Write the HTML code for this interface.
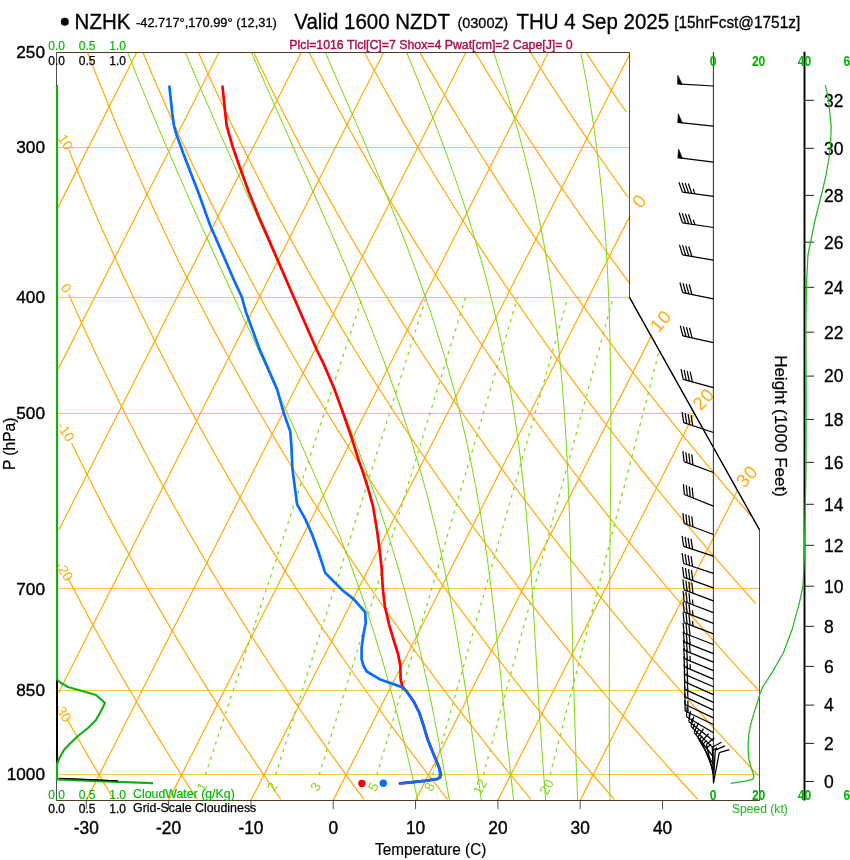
<!DOCTYPE html>
<html lang="en"><head><meta charset="utf-8"><title>NZHK Skew-T</title>
<style>html,body{margin:0;padding:0;background:#fff}body{width:850px;height:860px;overflow:hidden}svg{display:block}</style></head>
<body>
<svg width="850" height="860" viewBox="0 0 850 860" font-family="'Liberation Sans', Arial, Helvetica, sans-serif">
<rect width="850" height="860" fill="#fff"/>
<defs><clipPath id="cf"><path d="M56.5 52.5 L629.5 52.5 L629.5 297.44 L759.5 529.83 L759.5 800.5 L56.5 800.5 Z"/></clipPath><clipPath id="ct"><rect x="0" y="52.5" width="850" height="860"/></clipPath></defs>
<g clip-path="url(#ct)">
<path d="M56.5 774.5 L759.29 774.5" fill="none" stroke="#FFAC10" stroke-width="0.9" stroke-opacity="0.8"/>
<path d="M56.5 690.5 L759.29 690.5" fill="none" stroke="#FFAC10" stroke-width="0.9" stroke-opacity="0.8"/>
<path d="M56.5 588.5 L759.29 588.5" fill="none" stroke="#FFAC10" stroke-width="0.9" stroke-opacity="0.8"/>
<path d="M56.5 413.5 L694.2 413.5" fill="none" stroke="#FFAC10" stroke-width="0.9" stroke-opacity="0.8"/>
<path d="M56.5 297.5 L629.71 297.5" fill="none" stroke="#FFAC10" stroke-width="0.9" stroke-opacity="0.8"/>
<path d="M56.5 147.5 L629.71 147.5" fill="none" stroke="#FFAC10" stroke-width="0.9" stroke-opacity="0.8"/>
<path d="M57.64 208.13 L136.65 52.5" fill="none" stroke="#FFAC10" stroke-width="1.25" />
<path d="M58.22 369.15 L218.97 52.5" fill="none" stroke="#FFAC10" stroke-width="1.25" />
<path d="M58.87 530.03 L301.29 52.5" fill="none" stroke="#FFAC10" stroke-width="1.25" />
<path d="M58.29 693.33 L383.62 52.5" fill="none" stroke="#FFAC10" stroke-width="1.25" />
<path d="M86.26 800.4 L465.94 52.5" fill="none" stroke="#FFAC10" stroke-width="1.25" />
<path d="M168.59 800.4 L548.26 52.5" fill="none" stroke="#FFAC10" stroke-width="1.25" />
<path d="M250.91 800.4 L629.53 54.58" fill="none" stroke="#FFAC10" stroke-width="1.25" />
<path d="M333.23 800.4 L630.01 215.8" fill="none" stroke="#FFAC10" stroke-width="1.25" />
<path d="M415.56 800.4 L651.75 335.13" fill="none" stroke="#FFAC10" stroke-width="1.25" />
<path d="M497.88 800.4 L694.17 413.74" fill="none" stroke="#FFAC10" stroke-width="1.25" />
<path d="M580.2 800.4 L737.23 491.09" fill="none" stroke="#FFAC10" stroke-width="1.25" />
<path d="M66.47 717.97 L67.6 720.01 L68.74 722.05 L69.88 724.08 L71.02 726.12 L72.17 728.15 L73.31 730.19 L74.46 732.23 L75.61 734.26 L76.77 736.3 L77.93 738.33 L79.09 740.37 L80.25 742.4 L81.41 744.44 L82.58 746.48 L83.75 748.51 L84.92 750.55 L86.09 752.58 L87.27 754.62 L88.45 756.65 L89.63 758.69 L90.82 760.73 L92 762.76 L93.19 764.8 L94.38 766.83 L95.58 768.87 L96.77 770.91 L97.97 772.94 L99.17 774.98 L100.38 777.01 L101.59 779.05 L102.79 781.08 L104.01 783.12 L105.22 785.16 L106.44 787.19 L107.66 789.23 L108.88 791.26 L110.1 793.3 L111.33 795.33 L112.56 797.37 L113.79 799.41" fill="none" stroke="#FFAC10" stroke-width="1.25" />
<path d="M67.71 577.5 L70.59 583.04 L73.49 588.59 L76.41 594.14 L79.35 599.69 L82.31 605.24 L85.28 610.78 L88.27 616.33 L91.28 621.88 L94.31 627.43 L97.35 632.97 L100.41 638.52 L103.49 644.07 L106.59 649.62 L109.7 655.17 L112.84 660.71 L115.99 666.26 L119.16 671.81 L122.35 677.36 L125.55 682.9 L128.78 688.45 L132.02 694 L135.28 699.55 L138.56 705.09 L141.86 710.64 L145.18 716.19 L148.52 721.74 L151.87 727.29 L155.25 732.83 L158.64 738.38 L162.05 743.93 L165.48 749.48 L168.93 755.02 L172.4 760.57 L175.89 766.12 L179.4 771.67 L182.92 777.22 L186.47 782.76 L190.03 788.31 L193.62 793.86 L197.22 799.41" fill="none" stroke="#FFAC10" stroke-width="1.25" />
<path d="M71.65 443.22 L75.98 452.12 L80.34 461.03 L84.76 469.93 L89.21 478.84 L93.71 487.74 L98.26 496.65 L102.84 505.55 L107.48 514.46 L112.16 523.36 L116.88 532.26 L121.65 541.17 L126.46 550.07 L131.32 558.98 L136.23 567.88 L141.18 576.79 L146.18 585.69 L151.22 594.6 L156.31 603.5 L161.45 612.41 L166.64 621.31 L171.87 630.22 L177.15 639.12 L182.48 648.03 L187.86 656.93 L193.28 665.84 L198.76 674.74 L204.28 683.65 L209.86 692.55 L215.48 701.45 L221.15 710.36 L226.87 719.26 L232.64 728.17 L238.47 737.07 L244.34 745.98 L250.26 754.88 L256.24 763.79 L262.27 772.69 L268.34 781.6 L274.48 790.5 L280.66 799.41" fill="none" stroke="#FFAC10" stroke-width="1.25" />
<path d="M68.79 294.31 L74.39 306.94 L80.07 319.56 L85.84 332.19 L91.69 344.82 L97.63 357.45 L103.66 370.07 L109.77 382.7 L115.96 395.33 L122.25 407.96 L128.62 420.58 L135.09 433.21 L141.64 445.84 L148.28 458.46 L155.01 471.09 L161.84 483.72 L168.75 496.35 L175.76 508.97 L182.87 521.6 L190.06 534.23 L197.35 546.86 L204.74 559.48 L212.22 572.11 L219.8 584.74 L227.48 597.37 L235.25 609.99 L243.12 622.62 L251.1 635.25 L259.17 647.88 L267.34 660.5 L275.61 673.13 L283.99 685.76 L292.47 698.39 L301.05 711.01 L309.74 723.64 L318.53 736.27 L327.43 748.9 L336.43 761.52 L345.54 774.15 L354.76 786.78 L364.09 799.41" fill="none" stroke="#FFAC10" stroke-width="1.25" />
<path d="M68.93 149.94 L75.49 166.18 L82.19 182.42 L89.01 198.65 L95.98 214.89 L103.08 231.13 L110.31 247.36 L117.69 263.6 L125.2 279.84 L132.86 296.07 L140.66 312.31 L148.6 328.55 L156.69 344.78 L164.92 361.02 L173.3 377.26 L181.83 393.49 L190.51 409.73 L199.34 425.97 L208.32 442.2 L217.46 458.44 L226.76 474.68 L236.21 490.91 L245.81 507.15 L255.58 523.38 L265.51 539.62 L275.6 555.86 L285.86 572.09 L296.28 588.33 L306.87 604.57 L317.63 620.8 L328.56 637.04 L339.66 653.28 L350.93 669.51 L362.37 685.75 L374 701.99 L385.8 718.22 L397.78 734.46 L409.94 750.7 L422.28 766.93 L434.81 783.17 L447.53 799.41" fill="none" stroke="#FFAC10" stroke-width="1.25" />
<path d="M87.64 52.5 L94.88 71.17 L102.3 89.85 L109.88 108.52 L117.65 127.19 L125.59 145.86 L133.71 164.54 L142.01 183.21 L150.5 201.88 L159.17 220.55 L168.02 239.23 L177.07 257.9 L186.31 276.57 L195.73 295.24 L205.36 313.92 L215.18 332.59 L225.2 351.26 L235.42 369.94 L245.84 388.61 L256.47 407.28 L267.31 425.95 L278.35 444.63 L289.61 463.3 L301.08 481.97 L312.76 500.64 L324.67 519.32 L336.79 537.99 L349.14 556.66 L361.71 575.33 L374.51 594.01 L387.53 612.68 L400.79 631.35 L414.29 650.03 L428.02 668.7 L441.99 687.37 L456.2 706.04 L470.65 724.72 L485.35 743.39 L500.3 762.06 L515.5 780.73 L530.96 799.41" fill="none" stroke="#FFAC10" stroke-width="1.25" />
<path d="M143.02 52.5 L150.83 71.17 L158.82 89.85 L166.99 108.52 L175.34 127.19 L183.88 145.86 L192.6 164.54 L201.51 183.21 L210.6 201.88 L219.89 220.55 L229.38 239.23 L239.05 257.9 L248.93 276.57 L259 295.24 L269.28 313.92 L279.76 332.59 L290.44 351.26 L301.34 369.94 L312.44 388.61 L323.75 407.28 L335.28 425.95 L347.03 444.63 L358.99 463.3 L371.17 481.97 L383.58 500.64 L396.21 519.32 L409.07 537.99 L422.16 556.66 L435.49 575.33 L449.05 594.01 L462.84 612.68 L476.88 631.35 L491.15 650.03 L505.68 668.7 L520.44 687.37 L535.46 706.04 L550.73 724.72 L566.26 743.39 L582.04 762.06 L598.09 780.73 L614.39 799.41" fill="none" stroke="#FFAC10" stroke-width="1.25" />
<path d="M198.4 52.5 L206.78 71.17 L215.35 89.85 L224.1 108.52 L233.04 127.19 L242.17 145.86 L251.49 164.54 L261 183.21 L270.71 201.88 L280.62 220.55 L290.73 239.23 L301.04 257.9 L311.55 276.57 L322.27 295.24 L333.2 313.92 L344.34 332.59 L355.69 351.26 L367.25 369.94 L379.03 388.61 L391.03 407.28 L403.25 425.95 L415.7 444.63 L428.37 463.3 L441.27 481.97 L454.4 500.64 L467.76 519.32 L481.36 537.99 L495.19 556.66 L509.27 575.33 L523.59 594.01 L538.15 612.68 L552.96 631.35 L568.02 650.03 L583.33 668.7 L598.9 687.37 L614.73 706.04 L630.82 724.72 L647.17 743.39 L663.79 762.06 L680.67 780.73 L697.83 799.41" fill="none" stroke="#FFAC10" stroke-width="1.25" />
<path d="M253.77 52.5 L262.44 70.57 L271.28 88.65 L280.3 106.72 L289.5 124.8 L298.89 142.87 L308.46 160.95 L318.21 179.02 L328.16 197.1 L338.29 215.17 L348.62 233.25 L359.15 251.32 L369.87 269.4 L380.78 287.47 L391.9 305.55 L403.22 323.62 L414.75 341.7 L426.48 359.77 L438.42 377.85 L450.57 395.92 L462.93 414 L475.51 432.07 L488.3 450.15 L501.32 468.22 L514.55 486.3 L528.01 504.37 L541.69 522.45 L555.6 540.52 L569.74 558.6 L584.12 576.67 L598.73 594.75 L613.57 612.82 L628.66 630.89 L643.99 648.97 L659.56 667.04 L675.37 685.12 L691.44 703.19 L707.76 721.27 L724.33 739.34 L741.16 757.42 L758.25 775.49" fill="none" stroke="#FFAC10" stroke-width="1.25" />
<path d="M309.15 52.5 L317.27 68.44 L325.53 84.39 L333.94 100.33 L342.49 116.28 L351.19 132.22 L360.03 148.17 L369.02 164.11 L378.17 180.06 L387.46 196 L396.91 211.94 L406.51 227.89 L416.27 243.83 L426.18 259.78 L436.26 275.72 L446.49 291.67 L456.88 307.61 L467.44 323.55 L478.16 339.5 L489.04 355.44 L500.1 371.39 L511.32 387.33 L522.71 403.28 L534.27 419.22 L546 435.17 L557.91 451.11 L569.99 467.05 L582.25 483 L594.69 498.94 L607.32 514.89 L620.12 530.83 L633.1 546.78 L646.28 562.72 L659.63 578.66 L673.18 594.61 L686.92 610.55 L700.85 626.5 L714.97 642.44 L729.29 658.39 L743.8 674.33 L758.52 690.28" fill="none" stroke="#FFAC10" stroke-width="1.25" />
<path d="M364.53 52.5 L371.96 66.27 L379.49 80.05 L387.14 93.82 L394.89 107.6 L402.76 121.37 L410.74 135.15 L418.84 148.92 L427.05 162.7 L435.37 176.47 L443.82 190.25 L452.37 204.02 L461.05 217.79 L469.85 231.57 L478.76 245.34 L487.8 259.12 L496.96 272.89 L506.24 286.67 L515.64 300.44 L525.17 314.22 L534.82 327.99 L544.6 341.77 L554.51 355.54 L564.54 369.31 L574.71 383.09 L585 396.86 L595.43 410.64 L605.98 424.41 L616.68 438.19 L627.5 451.96 L638.46 465.74 L649.56 479.51 L660.79 493.29 L672.16 507.06 L683.68 520.83 L695.33 534.61 L707.12 548.38 L719.06 562.16 L731.14 575.93 L743.36 589.71 L755.73 603.48" fill="none" stroke="#FFAC10" stroke-width="1.25" />
<path d="M419.91 52.5 L426.5 64.09 L433.17 75.67 L439.92 87.26 L446.76 98.85 L453.67 110.44 L460.67 122.02 L467.75 133.61 L474.91 145.2 L482.15 156.79 L489.48 168.37 L496.89 179.96 L504.39 191.55 L511.97 203.14 L519.64 214.72 L527.4 226.31 L535.24 237.9 L543.17 249.49 L551.18 261.07 L559.29 272.66 L567.49 284.25 L575.77 295.84 L584.15 307.42 L592.61 319.01 L601.17 330.6 L609.82 342.19 L618.56 353.77 L627.4 365.36 L636.33 376.95 L645.35 388.54 L654.47 400.12 L663.69 411.71 L673 423.3 L682.41 434.89 L691.92 446.47 L701.52 458.06 L711.22 469.65 L721.03 481.24 L730.93 492.82 L740.93 504.41 L751.04 516" fill="none" stroke="#FFAC10" stroke-width="1.25" />
<path d="M475.28 52.5 L478.74 58.29 L482.22 64.07 L485.72 69.86 L489.24 75.65 L492.78 81.44 L496.34 87.22 L499.93 93.01 L503.53 98.8 L507.15 104.58 L510.8 110.37 L514.46 116.16 L518.15 121.94 L521.86 127.73 L525.59 133.52 L529.33 139.31 L533.11 145.09 L536.9 150.88 L540.71 156.67 L544.55 162.45 L548.4 168.24 L552.28 174.03 L556.18 179.82 L560.11 185.6 L564.05 191.39 L568.01 197.18 L572 202.96 L576.01 208.75 L580.04 214.54 L584.1 220.32 L588.17 226.11 L592.27 231.9 L596.39 237.69 L600.54 243.47 L604.7 249.26 L608.89 255.05 L613.1 260.83 L617.34 266.62 L621.59 272.41 L625.87 278.2 L630.17 283.98" fill="none" stroke="#FFAC10" stroke-width="1.25" />
<path d="M530.66 52.5 L532.93 56.12 L535.21 59.74 L537.5 63.36 L539.8 66.98 L542.1 70.61 L544.42 74.23 L546.74 77.85 L549.07 81.47 L551.41 85.09 L553.75 88.71 L556.11 92.33 L558.47 95.95 L560.84 99.58 L563.22 103.2 L565.61 106.82 L568.01 110.44 L570.41 114.06 L572.82 117.68 L575.25 121.3 L577.68 124.92 L580.12 128.54 L582.56 132.17 L585.02 135.79 L587.48 139.41 L589.96 143.03 L592.44 146.65 L594.93 150.27 L597.43 153.89 L599.93 157.51 L602.45 161.14 L604.98 164.76 L607.51 168.38 L610.05 172 L612.6 175.62 L615.16 179.24 L617.73 182.86 L620.31 186.48 L622.89 190.1 L625.49 193.73 L628.09 197.35" fill="none" stroke="#FFAC10" stroke-width="1.25" />
<path d="M586.04 52.5 L587.01 53.99 L587.99 55.47 L588.97 56.96 L589.95 58.44 L590.93 59.93 L591.92 61.42 L592.9 62.9 L593.89 64.39 L594.88 65.87 L595.87 67.36 L596.86 68.84 L597.85 70.33 L598.84 71.82 L599.84 73.3 L600.83 74.79 L601.83 76.27 L602.83 77.76 L603.83 79.25 L604.83 80.73 L605.84 82.22 L606.84 83.7 L607.85 85.19 L608.86 86.67 L609.87 88.16 L610.88 89.65 L611.89 91.13 L612.9 92.62 L613.92 94.1 L614.93 95.59 L615.95 97.08 L616.97 98.56 L617.99 100.05 L619.02 101.53 L620.04 103.02 L621.06 104.5 L622.09 105.99 L623.12 107.48 L624.15 108.96 L625.18 110.45 L626.21 111.93" fill="none" stroke="#FFAC10" stroke-width="1.25" />
<path d="M417.8 800.4 L416.67 795.41 L415.53 790.38 L414.37 785.29 L413.19 780.16 L412 774.97 L410.78 769.74 L409.54 764.44 L408.28 759.1 L406.98 753.7 L405.66 748.24 L404.34 742.73 L402.97 737.15 L401.58 731.52 L400.15 725.82 L398.68 720.06 L397.19 714.24 L395.65 708.35 L394.08 702.4 L392.47 696.37 L390.82 690.28 L389.12 684.11 L387.38 677.87 L385.58 671.55 L383.74 665.15 L381.85 658.68 L379.9 652.13 L377.89 645.49 L375.83 638.76 L373.7 631.95 L371.51 625.05 L369.24 618.05 L366.91 610.96 L364.5 603.77 L362.02 596.48 L359.46 589.09 L356.81 581.59 L354.08 573.98 L351.26 566.26 L348.38 558.43 L345.38 550.47 L342.26 542.39 L339.05 534.18 L335.74 525.84 L332.32 517.37 L328.81 508.75 L325.2 499.99 L321.48 491.09 L317.65 482.02 L313.7 472.8 L309.65 463.41 L305.48 453.84 L301.2 444.1 L296.79 434.18 L292.27 424.06 L287.62 413.74 L282.85 403.21 L277.95 392.46 L272.93 381.49 L267.77 370.28 L262.49 358.83 L257.08 347.12 L251.54 335.13 L245.86 322.87 L240.04 310.31 L234.1 297.44 L228.01 284.25 L221.79 270.71 L215.42 256.81 L208.91 242.54 L202.26 227.85 L195.47 212.75 L188.53 197.19 L181.45 181.15 L174.21 164.61 L166.83 147.52 L159.29 129.85 L151.61 111.56 L143.77 92.61 L135.78 72.94 L127.64 52.5" fill="none" stroke="#84D81C" stroke-width="1.05" />
<path d="M449.49 800.4 L448.59 795.41 L447.69 790.38 L446.78 785.29 L445.86 780.16 L444.93 774.97 L443.98 769.74 L443.03 764.44 L442.05 759.1 L441.05 753.7 L440.04 748.24 L439.04 742.73 L437.99 737.15 L436.93 731.52 L435.84 725.82 L434.73 720.06 L433.59 714.24 L432.43 708.35 L431.23 702.4 L430.01 696.37 L428.75 690.28 L427.45 684.11 L426.12 677.87 L424.74 671.55 L423.33 665.15 L421.85 658.68 L420.31 652.13 L418.73 645.49 L417.11 638.76 L415.43 631.95 L413.71 625.05 L411.93 618.05 L410.1 610.96 L408.21 603.77 L406.26 596.48 L404.24 589.09 L402.15 581.59 L399.98 573.98 L397.74 566.26 L395.42 558.43 L393.01 550.47 L390.51 542.39 L387.94 534.18 L385.26 525.84 L382.48 517.37 L379.59 508.75 L376.6 499.99 L373.49 491.09 L370.27 482.02 L366.92 472.8 L363.45 463.41 L359.85 453.84 L356.12 444.1 L352.25 434.18 L348.24 424.06 L344.08 413.74 L339.78 403.21 L335.33 392.46 L330.72 381.49 L325.95 370.28 L321.03 358.83 L315.94 347.12 L310.69 335.13 L305.26 322.87 L299.67 310.31 L293.91 297.44 L287.97 284.25 L281.86 270.71 L275.57 256.81 L269.1 242.54 L262.44 227.85 L255.61 212.75 L248.58 197.19 L241.37 181.15 L233.97 164.61 L226.38 147.52 L218.59 129.85 L210.6 111.56 L202.42 92.61 L194.04 72.94 L185.47 52.5" fill="none" stroke="#84D81C" stroke-width="1.05" />
<path d="M481.37 800.4 L480.67 795.41 L479.97 790.38 L479.27 785.29 L478.57 780.16 L477.86 774.97 L477.14 769.74 L476.42 764.44 L475.68 759.1 L474.93 753.7 L474.17 748.24 L473.39 742.73 L472.65 737.15 L471.85 731.52 L471.04 725.82 L470.19 720.06 L469.32 714.24 L468.44 708.35 L467.54 702.4 L466.63 696.37 L465.7 690.28 L464.76 684.11 L463.79 677.87 L462.8 671.55 L461.79 665.15 L460.76 658.68 L459.69 652.13 L458.6 645.49 L457.47 638.76 L456.31 631.95 L455.12 625.05 L453.88 618.05 L452.6 610.96 L451.28 603.77 L449.91 596.48 L448.49 589.09 L447.01 581.59 L445.48 573.98 L443.88 566.26 L442.22 558.43 L440.49 550.47 L438.68 542.39 L436.79 534.18 L434.82 525.84 L432.76 517.37 L430.6 508.75 L428.35 499.99 L425.99 491.09 L423.52 482.02 L420.93 472.8 L418.22 463.41 L415.39 453.84 L412.42 444.1 L409.31 434.18 L406.05 424.06 L402.64 413.74 L399.07 403.21 L395.33 392.46 L391.42 381.49 L387.34 370.28 L383.06 358.83 L378.6 347.12 L373.94 335.13 L369.08 322.87 L364.01 310.31 L358.73 297.44 L353.23 284.25 L347.51 270.71 L341.57 256.81 L335.4 242.54 L329 227.85 L322.36 212.75 L315.48 197.19 L308.36 181.15 L301.05 164.61 L293.44 147.52 L285.57 129.85 L277.46 111.56 L269.08 92.61 L260.44 72.94 L251.53 52.5" fill="none" stroke="#84D81C" stroke-width="1.05" />
<path d="M513.6 800.4 L513.05 795.41 L512.49 790.38 L511.93 785.29 L511.37 780.16 L510.79 774.97 L510.2 769.74 L509.62 764.44 L509.04 759.1 L508.46 753.7 L507.89 748.24 L507.3 742.73 L506.72 737.15 L506.17 731.52 L505.6 725.82 L505.03 720.06 L504.45 714.24 L503.86 708.35 L503.28 702.4 L502.68 696.37 L502.08 690.28 L501.47 684.11 L500.85 677.87 L500.23 671.55 L499.58 665.15 L498.93 658.68 L498.25 652.13 L497.56 645.49 L496.85 638.76 L496.12 631.95 L495.37 625.05 L494.59 618.05 L493.82 610.96 L492.99 603.77 L492.13 596.48 L491.23 589.09 L490.3 581.59 L489.32 573.98 L488.31 566.26 L487.24 558.43 L486.13 550.47 L484.96 542.39 L483.73 534.18 L482.44 525.84 L481.08 517.37 L479.65 508.75 L478.14 499.99 L476.55 491.09 L474.87 482.02 L473.09 472.8 L471.2 463.41 L469.23 453.84 L467.15 444.1 L464.91 434.18 L462.56 424.06 L460.07 413.74 L457.44 403.21 L454.64 392.46 L451.68 381.49 L448.55 370.28 L445.24 358.83 L441.72 347.12 L438.01 335.13 L434.08 322.87 L429.92 310.31 L425.53 297.44 L420.89 284.25 L415.99 270.71 L410.83 256.81 L405.39 242.54 L399.67 227.85 L393.66 212.75 L387.38 197.19 L380.77 181.15 L373.84 164.61 L366.6 147.52 L359.02 129.85 L351.11 111.56 L342.86 92.61 L334.26 72.94 L325.32 52.5" fill="none" stroke="#84D81C" stroke-width="1.05" />
<path d="M545.68 800.4 L545.28 795.41 L544.88 790.38 L544.49 785.29 L544.1 780.16 L543.72 774.97 L543.33 769.74 L542.95 764.44 L542.57 759.1 L542.18 753.7 L541.79 748.24 L541.43 742.73 L541.05 737.15 L540.66 731.52 L540.28 725.82 L539.88 720.06 L539.51 714.24 L539.14 708.35 L538.78 702.4 L538.42 696.37 L538.07 690.28 L537.71 684.11 L537.35 677.87 L536.98 671.55 L536.62 665.15 L536.25 658.68 L535.87 652.13 L535.49 645.49 L535.09 638.76 L534.69 631.95 L534.32 625.05 L533.9 618.05 L533.47 610.96 L533.03 603.77 L532.57 596.48 L532.1 589.09 L531.6 581.59 L531.08 573.98 L530.53 566.26 L529.96 558.43 L529.36 550.47 L528.73 542.39 L528.06 534.18 L527.35 525.84 L526.6 517.37 L525.81 508.75 L524.96 499.99 L524.06 491.09 L523.1 482.02 L522.08 472.8 L520.98 463.41 L519.82 453.84 L518.57 444.1 L517.23 434.18 L515.79 424.06 L514.25 413.74 L512.6 403.21 L510.83 392.46 L508.93 381.49 L506.87 370.28 L504.69 358.83 L502.34 347.12 L499.81 335.13 L497.09 322.87 L494.17 310.31 L491.04 297.44 L487.68 284.25 L484.06 270.71 L480.19 256.81 L476.03 242.54 L471.56 227.85 L466.78 212.75 L461.66 197.19 L456.18 181.15 L450.36 164.61 L444.14 147.52 L437.51 129.85 L430.46 111.56 L422.97 92.61 L415.04 72.94 L406.64 52.5" fill="none" stroke="#84D81C" stroke-width="1.05" />
<path d="M577.74 800.4 L577.51 795.41 L577.28 790.38 L577.06 785.29 L576.85 780.16 L576.65 774.97 L576.44 769.74 L576.24 764.44 L576.05 759.1 L575.86 753.7 L575.66 748.24 L575.47 742.73 L575.31 737.15 L575.13 731.52 L574.96 725.82 L574.78 720.06 L574.61 714.24 L574.44 708.35 L574.27 702.4 L574.1 696.37 L573.92 690.28 L573.75 684.11 L573.57 677.87 L573.39 671.55 L573.21 665.15 L573.02 658.68 L572.82 652.13 L572.66 645.49 L572.49 638.76 L572.32 631.95 L572.15 625.05 L572.03 618.05 L571.87 610.96 L571.71 603.77 L571.55 596.48 L571.38 589.09 L571.2 581.59 L571.02 573.98 L570.84 566.26 L570.64 558.43 L570.43 550.47 L570.21 542.39 L569.98 534.18 L569.72 525.84 L569.46 517.37 L569.17 508.75 L568.85 499.99 L568.51 491.09 L568.15 482.02 L567.75 472.8 L567.31 463.41 L566.83 453.84 L566.32 444.1 L565.7 434.18 L565.07 424.06 L564.38 413.74 L563.62 403.21 L562.8 392.46 L561.89 381.49 L560.9 370.28 L559.81 358.83 L558.67 347.12 L557.34 335.13 L555.89 322.87 L554.3 310.31 L552.51 297.44 L550.62 284.25 L548.52 270.71 L546.21 256.81 L543.69 242.54 L540.92 227.85 L537.89 212.75 L534.57 197.19 L530.93 181.15 L526.93 164.61 L522.55 147.52 L517.74 129.85 L512.5 111.56 L506.77 92.61 L500.53 72.94 L493.73 52.5" fill="none" stroke="#84D81C" stroke-width="1.05" />
<path d="M609.97 800.4 L609.88 795.41 L609.79 790.38 L609.71 785.29 L609.64 780.16 L609.57 774.97 L609.52 769.74 L609.46 764.44 L609.41 759.1 L609.37 753.7 L609.33 748.24 L609.29 742.73 L609.29 737.15 L609.27 731.52 L609.25 725.82 L609.24 720.06 L609.24 714.24 L609.24 708.35 L609.24 702.4 L609.25 696.37 L609.27 690.28 L609.28 684.11 L609.3 677.87 L609.32 671.55 L609.35 665.15 L609.38 658.68 L609.41 652.13 L609.44 645.49 L609.47 638.76 L609.5 631.95 L609.53 625.05 L609.56 618.05 L609.58 610.96 L609.65 603.77 L609.68 596.48 L609.7 589.09 L609.73 581.59 L609.77 573.98 L609.84 566.26 L609.9 558.43 L609.98 550.47 L610.05 542.39 L610.13 534.18 L610.21 525.84 L610.29 517.37 L610.38 508.75 L610.46 499.99 L610.54 491.09 L610.62 482.02 L610.69 472.8 L610.75 463.41 L610.78 453.84 L610.82 444.1 L610.84 434.18 L610.85 424.06 L610.84 413.74 L610.8 403.21 L610.74 392.46 L610.65 381.49 L610.52 370.28 L610.35 358.83 L610.13 347.12 L609.87 335.13 L609.54 322.87 L609.14 310.31 L608.67 297.44 L608.11 284.25 L607.45 270.71 L606.68 256.81 L605.83 242.54 L604.8 227.85 L603.48 212.75 L602.15 197.19 L600.56 181.15 L598.73 164.61 L596.63 147.52 L594.23 129.85 L591.49 111.56 L588.36 92.61 L584.79 72.94 L580.77 52.5" fill="none" stroke="#84D81C" stroke-width="1.05" />
<path d="M205.36 774.97 L362.22 297.44" fill="none" stroke="#84D81C" stroke-width="1.25" stroke-dasharray="3.4 4.6" clip-path="url(#cf)"/>
<path d="M275.61 774.97 L426.04 297.44" fill="none" stroke="#84D81C" stroke-width="1.25" stroke-dasharray="3.4 4.6" clip-path="url(#cf)"/>
<path d="M319.17 774.97 L465.47 297.44" fill="none" stroke="#84D81C" stroke-width="1.25" stroke-dasharray="3.4 4.6" clip-path="url(#cf)"/>
<path d="M376.83 774.97 L517.52 297.44" fill="none" stroke="#84D81C" stroke-width="1.25" stroke-dasharray="3.4 4.6" clip-path="url(#cf)"/>
<path d="M432.77 774.97 L567.85 297.44" fill="none" stroke="#84D81C" stroke-width="1.25" stroke-dasharray="3.4 4.6" clip-path="url(#cf)"/>
<path d="M483.33 774.97 L613.2 297.44" fill="none" stroke="#84D81C" stroke-width="1.25" stroke-dasharray="3.4 4.6" clip-path="url(#cf)"/>
<path d="M550.04 774.97 L672.86 297.44" fill="none" stroke="#84D81C" stroke-width="1.25" stroke-dasharray="3.4 4.6" clip-path="url(#cf)"/>
</g>
<text transform="translate(639.3 200.8) rotate(-48)" font-size="18.5" fill="#FFAC10" text-anchor="middle" dy="0.355em" letter-spacing="0.8">0</text>
<text transform="translate(660.7 320.9) rotate(-48)" font-size="18.5" fill="#FFAC10" text-anchor="middle" dy="0.355em" letter-spacing="0.8">10</text>
<text transform="translate(703.4 398.8) rotate(-48)" font-size="18.5" fill="#FFAC10" text-anchor="middle" dy="0.355em" letter-spacing="0.8">20</text>
<text transform="translate(746.8 476) rotate(-48)" font-size="18.5" fill="#FFAC10" text-anchor="middle" dy="0.355em" letter-spacing="0.8">30</text>
<text transform="translate(65.6 142) rotate(57)" font-size="14" fill="#FFAC10" text-anchor="middle" dy="0.355em">10</text>
<text transform="translate(66.2 288) rotate(57)" font-size="14" fill="#FFAC10" text-anchor="middle" dy="0.355em">0</text>
<text transform="translate(66 431.5) rotate(57)" font-size="14" fill="#FFAC10" text-anchor="middle" dy="0.355em">-10</text>
<text transform="translate(64.3 571) rotate(57)" font-size="14" fill="#FFAC10" text-anchor="middle" dy="0.355em">-20</text>
<text transform="translate(62.9 712) rotate(57)" font-size="14" fill="#FFAC10" text-anchor="middle" dy="0.355em">-30</text>
<text transform="translate(201.76 786.8) rotate(-62)" font-size="13.5" fill="#84D81C" text-anchor="middle" dy="0.355em">1</text>
<text transform="translate(272.01 786.8) rotate(-62)" font-size="13.5" fill="#84D81C" text-anchor="middle" dy="0.355em">2</text>
<text transform="translate(315.57 786.8) rotate(-62)" font-size="13.5" fill="#84D81C" text-anchor="middle" dy="0.355em">3</text>
<text transform="translate(373.23 786.8) rotate(-62)" font-size="13.5" fill="#84D81C" text-anchor="middle" dy="0.355em">5</text>
<text transform="translate(429.17 786.8) rotate(-62)" font-size="13.5" fill="#84D81C" text-anchor="middle" dy="0.355em">8</text>
<text transform="translate(479.73 786.8) rotate(-62)" font-size="13.5" fill="#84D81C" text-anchor="middle" dy="0.355em">12</text>
<text transform="translate(546.44 786.8) rotate(-62)" font-size="13.5" fill="#84D81C" text-anchor="middle" dy="0.355em">20</text>
<path d="M56.5 52.5 L629.5 52.5" fill="none" stroke="#FFAC10" stroke-width="1.0" />
<path d="M56.5 800.5 L759.5 800.5" fill="none" stroke="#FFAC10" stroke-width="1.0" />
<path d="M56.5 52.5 L629.5 52.5 L629.5 297.44 L759.5 529.83 L759.5 800.5 L56.5 800.5 L56.5 52.5" fill="none" stroke="#222" stroke-width="1.0" stroke-opacity="0.8"/>
<path d="M629.5 297.44 L759.5 529.83" fill="none" stroke="#000" stroke-width="1.3" />
<path d="M86.26 800.5 L86.26 809.2" fill="none" stroke="#333" stroke-width="0.85" />
<text transform="translate(86.26 833.8) scale(1.0 1.04)" font-size="17.3" text-anchor="middle" fill="#000" stroke="#000" stroke-width="0.4" stroke-linejoin="round" >-30</text>
<path d="M168.59 800.5 L168.59 809.2" fill="none" stroke="#333" stroke-width="0.85" />
<text transform="translate(168.59 833.8) scale(1.0 1.04)" font-size="17.3" text-anchor="middle" fill="#000" stroke="#000" stroke-width="0.4" stroke-linejoin="round" >-20</text>
<path d="M250.91 800.5 L250.91 809.2" fill="none" stroke="#333" stroke-width="0.85" />
<text transform="translate(250.91 833.8) scale(1.0 1.04)" font-size="17.3" text-anchor="middle" fill="#000" stroke="#000" stroke-width="0.4" stroke-linejoin="round" >-10</text>
<path d="M333.23 800.5 L333.23 809.2" fill="none" stroke="#333" stroke-width="0.85" />
<text transform="translate(333.23 833.8) scale(1.0 1.04)" font-size="17.3" text-anchor="middle" fill="#000" stroke="#000" stroke-width="0.4" stroke-linejoin="round" >0</text>
<path d="M415.56 800.5 L415.56 809.2" fill="none" stroke="#333" stroke-width="0.85" />
<text transform="translate(415.56 833.8) scale(1.0 1.04)" font-size="17.3" text-anchor="middle" fill="#000" stroke="#000" stroke-width="0.4" stroke-linejoin="round" >10</text>
<path d="M497.88 800.5 L497.88 809.2" fill="none" stroke="#333" stroke-width="0.85" />
<text transform="translate(497.88 833.8) scale(1.0 1.04)" font-size="17.3" text-anchor="middle" fill="#000" stroke="#000" stroke-width="0.4" stroke-linejoin="round" >20</text>
<path d="M580.2 800.5 L580.2 809.2" fill="none" stroke="#333" stroke-width="0.85" />
<text transform="translate(580.2 833.8) scale(1.0 1.04)" font-size="17.3" text-anchor="middle" fill="#000" stroke="#000" stroke-width="0.4" stroke-linejoin="round" >30</text>
<path d="M662.52 800.5 L662.52 809.2" fill="none" stroke="#333" stroke-width="0.85" />
<text transform="translate(662.52 833.8) scale(1.0 1.04)" font-size="17.3" text-anchor="middle" fill="#000" stroke="#000" stroke-width="0.4" stroke-linejoin="round" >40</text>
<text transform="translate(45 58)" font-size="17.2" text-anchor="end" fill="#000" stroke="#000" stroke-width="0.4" stroke-linejoin="round" >250</text>
<text transform="translate(45 153.02)" font-size="17.2" text-anchor="end" fill="#000" stroke="#000" stroke-width="0.4" stroke-linejoin="round" >300</text>
<text transform="translate(45 302.94)" font-size="17.2" text-anchor="end" fill="#000" stroke="#000" stroke-width="0.4" stroke-linejoin="round" >400</text>
<text transform="translate(45 419.24)" font-size="17.2" text-anchor="end" fill="#000" stroke="#000" stroke-width="0.4" stroke-linejoin="round" >500</text>
<text transform="translate(45 594.59)" font-size="17.2" text-anchor="end" fill="#000" stroke="#000" stroke-width="0.4" stroke-linejoin="round" >700</text>
<text transform="translate(45 695.78)" font-size="17.2" text-anchor="end" fill="#000" stroke="#000" stroke-width="0.4" stroke-linejoin="round" >850</text>
<text transform="translate(45 780.47)" font-size="17.2" text-anchor="end" fill="#000" stroke="#000" stroke-width="0.4" stroke-linejoin="round" >1000</text>
<text transform="translate(15.1 443.8) rotate(-90) scale(1.0 1.07)" font-size="15.6" text-anchor="middle" fill="#000" stroke="#000" stroke-width="0.2" stroke-linejoin="round" >P (hPa)</text>
<text transform="translate(430.7 854.8) scale(1.0 1.05)" font-size="15.3" text-anchor="middle" fill="#000" stroke="#000" stroke-width="0.2" stroke-linejoin="round" >Temperature (C)</text>
<text transform="translate(56.6 49.5)" font-size="12" text-anchor="middle" fill="#00B400" stroke="#00B400" stroke-width="0.12" stroke-linejoin="round" >0.0</text>
<text transform="translate(56.6 65)" font-size="12" text-anchor="middle" fill="#000" stroke="#000" stroke-width="0.25" stroke-linejoin="round" >0.0</text>
<text transform="translate(56.6 798.8)" font-size="12" text-anchor="middle" fill="#00B400" stroke="#00B400" stroke-width="0.12" stroke-linejoin="round" >0.0</text>
<text transform="translate(56.6 812.6)" font-size="12" text-anchor="middle" fill="#000" stroke="#000" stroke-width="0.3" stroke-linejoin="round" >0.0</text>
<text transform="translate(87.1 49.5)" font-size="12" text-anchor="middle" fill="#00B400" stroke="#00B400" stroke-width="0.12" stroke-linejoin="round" >0.5</text>
<text transform="translate(87.1 65)" font-size="12" text-anchor="middle" fill="#000" stroke="#000" stroke-width="0.25" stroke-linejoin="round" >0.5</text>
<text transform="translate(87.1 798.8)" font-size="12" text-anchor="middle" fill="#00B400" stroke="#00B400" stroke-width="0.12" stroke-linejoin="round" >0.5</text>
<text transform="translate(87.1 812.6)" font-size="12" text-anchor="middle" fill="#000" stroke="#000" stroke-width="0.3" stroke-linejoin="round" >0.5</text>
<text transform="translate(117.6 49.5)" font-size="12" text-anchor="middle" fill="#00B400" stroke="#00B400" stroke-width="0.12" stroke-linejoin="round" >1.0</text>
<text transform="translate(117.6 65)" font-size="12" text-anchor="middle" fill="#000" stroke="#000" stroke-width="0.25" stroke-linejoin="round" >1.0</text>
<text transform="translate(117.6 798.8)" font-size="12" text-anchor="middle" fill="#00B400" stroke="#00B400" stroke-width="0.12" stroke-linejoin="round" >1.0</text>
<text transform="translate(117.6 812.6)" font-size="12" text-anchor="middle" fill="#000" stroke="#000" stroke-width="0.3" stroke-linejoin="round" >1.0</text>
<text transform="translate(133 798.4)" font-size="12.35" text-anchor="start" fill="#00B400" stroke="#00B400" stroke-width="0.15" stroke-linejoin="round" >CloudWater (g/Kg)</text>
<text transform="translate(133 812.4)" font-size="12.4" text-anchor="start" fill="#000" stroke="#000" stroke-width="0.25" stroke-linejoin="round" >Grid-Scale Cloudiness</text>
<path d="M57 85.5 L57 779 L90 780.2 L118 781.3" fill="none" stroke="#000" stroke-width="2.0" stroke-linejoin="round"/>
<path d="M57 85.5 L57 679.5 L61 683 L68 687 L82 691 L96 695 L105 703 L101 711 L96 720 L88 728 L78 736 L70 743.5 L64 750 L60 757 L57 764 L57 779.3 L80 780.3 L118 781.9 L153 783.2" fill="none" stroke="#16AE16" stroke-width="2.2" stroke-linejoin="round"/>
<path d="M59.5 778.3 L90 779.6 L118 781" fill="none" stroke="#000" stroke-width="1.1" />
<path d="M222.5 86.6 L224.9 109.6 L226.6 125.3 L232.4 145.9 L239.8 167.3 L248.8 192 L259.5 218.4 L267.4 236.4 L278.1 261.1 L293.8 297.3 L305.3 323.7 L316.8 350 L324 364.7 L333.9 387.8 L342.9 412.5 L352 438.8 L358.6 460.2 L362.2 470 L368 488.1 L373 506.2 L377.1 530.9 L379.5 549.1 L381.7 568.8 L382.8 588.6 L384.9 606.5 L389.1 624.6 L394 641.1 L398.1 654.2 L400.3 665.8 L400.6 678.9 L402.4 686.6 L406.6 691.3 L413.6 701.2 L419.3 712.5 L423.5 725.2 L427.7 739.3 L433.4 753.4 L439.2 767.5 L441 774.3 L440 777.6 L437.4 779 L424.7 780.9 L410.6 782.4 L400 783.3" fill="none" stroke="#FF0000" stroke-width="2.7" stroke-linejoin="round" stroke-linecap="round"/>
<path d="M169.4 86.6 L172.2 112.9 L173.9 125.3 L176.4 134.4 L182.9 152.5 L191.2 173.9 L199.4 195.3 L207.6 218.4 L210.6 226.5 L222.9 254.5 L233.6 279.2 L241.9 297.3 L246 312.1 L252.6 330.2 L259.2 348.4 L266.4 364.7 L277.1 389.4 L283.6 412.5 L290.2 431.4 L291.4 445.4 L292.4 468.5 L294.7 486.5 L297.2 504.6 L305.4 519.4 L312 534.2 L318.6 552.4 L325.2 572.9 L334.2 582 L342.5 590.2 L353.6 599.1 L365.2 612.2 L365.7 622.9 L363.5 634.5 L361.6 647.7 L361.6 659.2 L363.5 665.8 L366.8 671.5 L380.8 679.8 L401.4 686.9 L406.4 691.3 L413.4 701.2 L419.1 712.5 L423.3 725.2 L427.5 739.3 L433.2 753.4 L438.8 767.5 L440.2 773.2 L439.5 777.4 L437.4 778.8 L424.7 780.9 L410.6 782.4 L400 783.3" fill="none" stroke="#0A6CFF" stroke-width="2.7" stroke-linejoin="round" stroke-linecap="round"/>
<circle cx="361.9" cy="783.4" r="3.7" fill="#FF0000"/>
<circle cx="383.3" cy="783.3" r="3.7" fill="#0A6CFF"/>
<path d="M713.4 52 L713.4 783.3" fill="none" stroke="#3c3c3c" stroke-width="1.1" />
<path d="M713.4 86 L677.56 83.87" fill="none" stroke="#000" stroke-width="1.25" />
<path d="M677.56 83.87 L677.77 75.27 L682.16 84.14 Z" fill="#000" stroke="#000" stroke-width="0.6"/>
<path d="M713.4 126.2 L677.71 122.32" fill="none" stroke="#000" stroke-width="1.25" />
<path d="M677.71 122.32 L678.34 113.74 L682.28 122.82 Z" fill="#000" stroke="#000" stroke-width="0.6"/>
<path d="M713.4 162.2 L677.79 157.64" fill="none" stroke="#000" stroke-width="1.25" />
<path d="M677.79 157.64 L678.59 149.07 L682.35 158.22 Z" fill="#000" stroke="#000" stroke-width="0.6"/>
<path d="M713.4 196.4 L682.39 192.15" fill="none" stroke="#000" stroke-width="1.25" />
<path d="M682.39 192.15 l-3.45 -9.92M685.51 192.58 l-3.45 -9.92M688.63 193.01 l-3.45 -9.92M691.75 193.43 l-3.45 -9.92M694.87 193.86 l-1.73 -4.96" fill="none" stroke="#000" stroke-width="1.25"/>
<path d="M713.4 227.5 L682.46 222.77" fill="none" stroke="#000" stroke-width="1.25" />
<path d="M682.46 222.77 l-3.3 -9.97M685.57 223.24 l-3.3 -9.97M688.69 223.72 l-3.3 -9.97M691.8 224.19 l-3.3 -9.97M694.92 224.67 l-1.65 -4.98" fill="none" stroke="#000" stroke-width="1.25"/>
<path d="M713.4 260.2 L682.56 254.87" fill="none" stroke="#000" stroke-width="1.25" />
<path d="M682.56 254.87 l-3.1 -10.03M685.66 255.41 l-3.1 -10.03M688.76 255.94 l-3.1 -10.03M691.87 256.48 l-3.1 -10.03" fill="none" stroke="#000" stroke-width="1.25"/>
<path d="M713.4 298.9 L682.73 292.66" fill="none" stroke="#000" stroke-width="1.25" />
<path d="M682.73 292.66 l-2.81 -10.12M685.82 293.29 l-2.81 -10.12M688.9 293.92 l-2.81 -10.12M691.99 294.54 l-2.81 -10.12" fill="none" stroke="#000" stroke-width="1.25"/>
<path d="M713.4 342.7 L682.87 335.82" fill="none" stroke="#000" stroke-width="1.25" />
<path d="M682.87 335.82 l-2.59 -10.17M685.94 336.51 l-2.59 -10.17M689.01 337.2 l-2.59 -10.17M692.08 337.9 l-2.59 -10.17" fill="none" stroke="#000" stroke-width="1.25"/>
<path d="M713.4 387.6 L683.19 379.39" fill="none" stroke="#000" stroke-width="1.25" />
<path d="M683.19 379.39 l-2.15 -10.28M686.23 380.22 l-2.15 -10.28M689.27 381.05 l-2.15 -10.28M692.31 381.87 l-2.15 -10.28" fill="none" stroke="#000" stroke-width="1.25"/>
<path d="M713.4 432.5 L683.72 422.57" fill="none" stroke="#000" stroke-width="1.25" />
<path d="M683.72 422.57 l-1.55 -10.38M686.7 423.57 l-1.55 -10.38M689.69 424.57 l-1.55 -10.38M692.68 425.57 l-1.55 -10.38" fill="none" stroke="#000" stroke-width="1.25"/>
<path d="M713.4 472.5 L684.08 461.54" fill="none" stroke="#000" stroke-width="1.25" />
<path d="M684.08 461.54 l-1.19 -10.43M687.03 462.64 l-1.19 -10.43M689.98 463.74 l-1.19 -10.43M692.93 464.85 l-1.19 -10.43" fill="none" stroke="#000" stroke-width="1.25"/>
<path d="M713.4 506.2 L684.36 494.53" fill="none" stroke="#000" stroke-width="1.25" />
<path d="M684.36 494.53 l-0.93 -10.46M687.28 495.7 l-0.93 -10.46M690.2 496.88 l-0.93 -10.46M693.13 498.05 l-0.93 -10.46" fill="none" stroke="#000" stroke-width="1.25"/>
<path d="M713.4 534.5 L684.1 523.49" fill="none" stroke="#000" stroke-width="1.25" />
<path d="M684.1 523.49 l-1.17 -10.43M687.05 524.6 l-1.17 -10.43M690 525.7 l-1.17 -10.43M692.95 526.81 l-1.17 -10.43" fill="none" stroke="#000" stroke-width="1.25"/>
<path d="M713.4 556.1 L683.67 546.32" fill="none" stroke="#000" stroke-width="1.25" />
<path d="M683.67 546.32 l-1.61 -10.38M686.66 547.31 l-1.61 -10.38M689.65 548.29 l-1.61 -10.38M692.64 549.28 l-1.61 -10.38" fill="none" stroke="#000" stroke-width="1.25"/>
<path d="M713.4 573.3 L683.67 563.52" fill="none" stroke="#000" stroke-width="1.25" />
<path d="M683.67 563.52 l-1.61 -10.38M686.66 564.51 l-1.61 -10.38M689.65 565.49 l-1.61 -10.38M692.64 566.48 l-1.61 -10.38" fill="none" stroke="#000" stroke-width="1.25"/>
<path d="M713.4 587.8 L683.88 577.4" fill="none" stroke="#000" stroke-width="1.25" />
<path d="M683.88 577.4 l-1.39 -10.41M686.85 578.45 l-1.39 -10.41M689.82 579.5 l-1.39 -10.41M692.79 580.54 l-1.39 -10.41" fill="none" stroke="#000" stroke-width="1.25"/>
<path d="M713.4 600.8 L684.1 589.79" fill="none" stroke="#000" stroke-width="1.25" />
<path d="M684.1 589.79 l-1.17 -10.43M687.05 590.9 l-1.17 -10.43M690 592 l-1.17 -10.43M692.95 593.11 l-1.17 -10.43" fill="none" stroke="#000" stroke-width="1.25"/>
<path d="M713.4 612.7 L684.18 601.48" fill="none" stroke="#000" stroke-width="1.25" />
<path d="M684.18 601.48 l-1.1 -10.44M687.12 602.61 l-1.1 -10.44M690.06 603.74 l-1.1 -10.44M693 604.87 l-0.55 -5.22" fill="none" stroke="#000" stroke-width="1.25"/>
<path d="M713.4 623.3 L684.18 612.08" fill="none" stroke="#000" stroke-width="1.25" />
<path d="M684.18 612.08 l-1.1 -10.44M687.12 613.21 l-1.1 -10.44M690.06 614.34 l-1.1 -10.44M693 615.47 l-0.55 -5.22" fill="none" stroke="#000" stroke-width="1.25"/>
<path d="M713.4 633.9 L684.18 622.68" fill="none" stroke="#000" stroke-width="1.25" />
<path d="M684.18 622.68 l-1.1 -10.44M687.12 623.81 l-1.1 -10.44M690.06 624.94 l-1.1 -10.44M693 626.07 l-0.55 -5.22" fill="none" stroke="#000" stroke-width="1.25"/>
<path d="M713.4 644.5 L684.18 633.28" fill="none" stroke="#000" stroke-width="1.25" />
<path d="M684.18 633.28 l-1.1 -10.44M687.12 634.41 l-1.1 -10.44M690.06 635.54 l-1.1 -10.44" fill="none" stroke="#000" stroke-width="1.25"/>
<path d="M713.4 653.6 L684.28 642.13" fill="none" stroke="#000" stroke-width="1.25" />
<path d="M684.28 642.13 l-1.01 -10.45M687.21 643.28 l-1.01 -10.45M690.14 644.44 l-1.01 -10.45" fill="none" stroke="#000" stroke-width="1.25"/>
<path d="M713.4 662.1 L684.38 650.37" fill="none" stroke="#000" stroke-width="1.25" />
<path d="M684.38 650.37 l-0.92 -10.46M687.3 651.55 l-0.92 -10.46M690.22 652.73 l-0.92 -10.46" fill="none" stroke="#000" stroke-width="1.25"/>
<path d="M713.4 670.6 L684.48 658.62" fill="none" stroke="#000" stroke-width="1.25" />
<path d="M684.48 658.62 l-0.82 -10.47M687.39 659.83 l-0.82 -10.47M690.3 661.03 l-0.41 -5.23" fill="none" stroke="#000" stroke-width="1.25"/>
<path d="M713.4 679.1 L684.59 666.87" fill="none" stroke="#000" stroke-width="1.25" />
<path d="M684.59 666.87 l-0.73 -10.47M687.49 668.1 l-0.73 -10.47M690.39 669.33 l-0.37 -5.24" fill="none" stroke="#000" stroke-width="1.25"/>
<path d="M713.4 686.8 L684.7 674.32" fill="none" stroke="#000" stroke-width="1.25" />
<path d="M684.7 674.32 l-0.64 -10.48M687.58 675.58 l-0.64 -10.48" fill="none" stroke="#000" stroke-width="1.25"/>
<path d="M713.4 694.6 L684.81 681.87" fill="none" stroke="#000" stroke-width="1.25" />
<path d="M684.81 681.87 l-0.55 -10.49M687.68 683.15 l-0.55 -10.49" fill="none" stroke="#000" stroke-width="1.25"/>
<path d="M713.4 702.4 L684.92 689.42" fill="none" stroke="#000" stroke-width="1.25" />
<path d="M684.92 689.42 l-0.46 -10.49M687.78 690.73 l-0.46 -10.49" fill="none" stroke="#000" stroke-width="1.25"/>
<path d="M713.4 710.1 L685.03 696.87" fill="none" stroke="#000" stroke-width="1.25" />
<path d="M685.03 696.87 l-0.37 -10.49M687.89 698.2 l-0.37 -10.49" fill="none" stroke="#000" stroke-width="1.25"/>
<path d="M713.4 717.9 L685.1 704.52" fill="none" stroke="#000" stroke-width="1.25" />
<path d="M685.1 704.52 l-0.31 -10.5M687.95 705.87 l-0.16 -5.25" fill="none" stroke="#000" stroke-width="1.25"/>
<path d="M713.4 724.5 L685.17 710.98" fill="none" stroke="#000" stroke-width="1.25" />
<path d="M685.17 710.98 l-0.26 -10.5M688.01 712.34 l-0.13 -5.25" fill="none" stroke="#000" stroke-width="1.25"/>
<path d="M713.4 732.7 L686.49 716.72" fill="none" stroke="#000" stroke-width="1.25" />
<path d="M686.49 716.72 l0.68 -10.48M689.2 718.33 l0.34 -5.24" fill="none" stroke="#000" stroke-width="1.25"/>
<path d="M713.4 740.7 L688.7 721.47" fill="none" stroke="#000" stroke-width="1.25" />
<path d="M688.7 721.47 l1.99 -10.31M691.19 723.41 l0.99 -5.16" fill="none" stroke="#000" stroke-width="1.25"/>
<path d="M713.4 748.1 L690.88 726.36" fill="none" stroke="#000" stroke-width="1.25" />
<path d="M690.88 726.36 l3.07 -10.04M693.15 728.55 l1.53 -5.02" fill="none" stroke="#000" stroke-width="1.25"/>
<path d="M713.4 757 L694.13 732.34" fill="none" stroke="#000" stroke-width="1.25" />
<path d="M694.13 732.34 l4.44 -9.52M696.07 734.82 l2.22 -4.76" fill="none" stroke="#000" stroke-width="1.25"/>
<path d="M713.4 764.5 L697.75 737.39" fill="none" stroke="#000" stroke-width="1.25" />
<path d="M697.75 737.39 l5.72 -8.81M699.33 740.12 l2.86 -4.4" fill="none" stroke="#000" stroke-width="1.25"/>
<path d="M713.4 770.5 L701.67 741.48" fill="none" stroke="#000" stroke-width="1.25" />
<path d="M701.67 741.48 l6.89 -7.92M702.85 744.4 l3.44 -3.96" fill="none" stroke="#000" stroke-width="1.25"/>
<path d="M713.4 775 L706.36 744.5" fill="none" stroke="#000" stroke-width="1.25" />
<path d="M706.36 744.5 l8.04 -6.75M707.07 747.57 l4.02 -3.37" fill="none" stroke="#000" stroke-width="1.25"/>
<path d="M713.4 778.6 L712.31 747.32" fill="none" stroke="#000" stroke-width="1.25" />
<path d="M712.31 747.32 l9.18 -5.09M712.42 750.47 l4.59 -2.55" fill="none" stroke="#000" stroke-width="1.25"/>
<path d="M713.4 781.3 L715.31 750.06" fill="none" stroke="#000" stroke-width="1.25" />
<path d="M715.31 750.06 l9.63 -4.19" fill="none" stroke="#000" stroke-width="1.25"/>
<path d="M713.4 783.4 L719.27 752.65" fill="none" stroke="#000" stroke-width="1.25" />
<path d="M719.27 752.65 l10.08 -2.93" fill="none" stroke="#000" stroke-width="1.25"/>
<path d="M804.5 51.8 L804.5 800.6" fill="none" stroke="#000" stroke-width="1.9" />
<path d="M804.5 100.3 L814 100.3" fill="none" stroke="#222" stroke-width="1.0" />
<text transform="translate(824 106.6)" font-size="17.5" text-anchor="start" fill="#000" stroke="#000" stroke-width="0.3" stroke-linejoin="round" >32</text>
<path d="M804.5 148.3 L814 148.3" fill="none" stroke="#222" stroke-width="1.0" />
<text transform="translate(824 154.6)" font-size="17.5" text-anchor="start" fill="#000" stroke="#000" stroke-width="0.3" stroke-linejoin="round" >30</text>
<path d="M804.5 195.4 L814 195.4" fill="none" stroke="#222" stroke-width="1.0" />
<text transform="translate(824 201.7)" font-size="17.5" text-anchor="start" fill="#000" stroke="#000" stroke-width="0.3" stroke-linejoin="round" >28</text>
<path d="M804.5 242.2 L814 242.2" fill="none" stroke="#222" stroke-width="1.0" />
<text transform="translate(824 248.5)" font-size="17.5" text-anchor="start" fill="#000" stroke="#000" stroke-width="0.3" stroke-linejoin="round" >26</text>
<path d="M804.5 287.3 L814 287.3" fill="none" stroke="#222" stroke-width="1.0" />
<text transform="translate(824 293.6)" font-size="17.5" text-anchor="start" fill="#000" stroke="#000" stroke-width="0.3" stroke-linejoin="round" >24</text>
<path d="M804.5 332.2 L814 332.2" fill="none" stroke="#222" stroke-width="1.0" />
<text transform="translate(824 338.5)" font-size="17.5" text-anchor="start" fill="#000" stroke="#000" stroke-width="0.3" stroke-linejoin="round" >22</text>
<path d="M804.5 376.1 L814 376.1" fill="none" stroke="#222" stroke-width="1.0" />
<text transform="translate(824 382.4)" font-size="17.5" text-anchor="start" fill="#000" stroke="#000" stroke-width="0.3" stroke-linejoin="round" >20</text>
<path d="M804.5 419.4 L814 419.4" fill="none" stroke="#222" stroke-width="1.0" />
<text transform="translate(824 425.7)" font-size="17.5" text-anchor="start" fill="#000" stroke="#000" stroke-width="0.3" stroke-linejoin="round" >18</text>
<path d="M804.5 462.4 L814 462.4" fill="none" stroke="#222" stroke-width="1.0" />
<text transform="translate(824 468.7)" font-size="17.5" text-anchor="start" fill="#000" stroke="#000" stroke-width="0.3" stroke-linejoin="round" >16</text>
<path d="M804.5 504.3 L814 504.3" fill="none" stroke="#222" stroke-width="1.0" />
<text transform="translate(824 510.6)" font-size="17.5" text-anchor="start" fill="#000" stroke="#000" stroke-width="0.3" stroke-linejoin="round" >14</text>
<path d="M804.5 545.3 L814 545.3" fill="none" stroke="#222" stroke-width="1.0" />
<text transform="translate(824 551.6)" font-size="17.5" text-anchor="start" fill="#000" stroke="#000" stroke-width="0.3" stroke-linejoin="round" >12</text>
<path d="M804.5 586.2 L814 586.2" fill="none" stroke="#222" stroke-width="1.0" />
<text transform="translate(824 592.5)" font-size="17.5" text-anchor="start" fill="#000" stroke="#000" stroke-width="0.3" stroke-linejoin="round" >10</text>
<path d="M804.5 626.3 L814 626.3" fill="none" stroke="#222" stroke-width="1.0" />
<text transform="translate(824 632.6)" font-size="17.5" text-anchor="start" fill="#000" stroke="#000" stroke-width="0.3" stroke-linejoin="round" >8</text>
<path d="M804.5 666.4 L814 666.4" fill="none" stroke="#222" stroke-width="1.0" />
<text transform="translate(824 672.7)" font-size="17.5" text-anchor="start" fill="#000" stroke="#000" stroke-width="0.3" stroke-linejoin="round" >6</text>
<path d="M804.5 705.1 L814 705.1" fill="none" stroke="#222" stroke-width="1.0" />
<text transform="translate(824 711.4)" font-size="17.5" text-anchor="start" fill="#000" stroke="#000" stroke-width="0.3" stroke-linejoin="round" >4</text>
<path d="M804.5 743.4 L814 743.4" fill="none" stroke="#222" stroke-width="1.0" />
<text transform="translate(824 749.7)" font-size="17.5" text-anchor="start" fill="#000" stroke="#000" stroke-width="0.3" stroke-linejoin="round" >2</text>
<path d="M804.5 781.5 L814 781.5" fill="none" stroke="#222" stroke-width="1.0" />
<text transform="translate(824 787.8)" font-size="17.5" text-anchor="start" fill="#000" stroke="#000" stroke-width="0.3" stroke-linejoin="round" >0</text>
<text transform="translate(774.5 426) rotate(90)" font-size="17" text-anchor="middle" fill="#000" stroke="#000" stroke-width="0.2" stroke-linejoin="round" >Height (1000 Feet)</text>
<text transform="translate(713.2 66) scale(0.93 1.1)" font-size="13.0" text-anchor="middle" fill="#00B400" font-weight="bold">0</text>
<text transform="translate(713.2 799.7) scale(0.93 1.1)" font-size="13.0" text-anchor="middle" fill="#00B400" font-weight="bold">0</text>
<text transform="translate(758.6 66) scale(0.93 1.1)" font-size="13.0" text-anchor="middle" fill="#00B400" font-weight="bold">20</text>
<text transform="translate(758.6 799.7) scale(0.93 1.1)" font-size="13.0" text-anchor="middle" fill="#00B400" font-weight="bold">20</text>
<text transform="translate(804.4 66) scale(0.93 1.1)" font-size="13.0" text-anchor="middle" fill="#00B400" font-weight="bold">40</text>
<text transform="translate(804.4 799.7) scale(0.93 1.1)" font-size="13.0" text-anchor="middle" fill="#00B400" font-weight="bold">40</text>
<text transform="translate(850.2 66) scale(0.93 1.1)" font-size="13.0" text-anchor="middle" fill="#00B400" font-weight="bold">60</text>
<text transform="translate(850.2 799.7) scale(0.93 1.1)" font-size="13.0" text-anchor="middle" fill="#00B400" font-weight="bold">60</text>
<text transform="translate(732 812.8)" font-size="12.1" text-anchor="start" fill="#22BB22" stroke="#22BB22" stroke-width="0.1" stroke-linejoin="round" >Speed (kt)</text>
<path d="M825.4 85.2 L828.5 100 L831.2 126.5 L830.5 145 L828.9 158.5 L826 175 L822.5 190.5 L815.2 219.5 L811 240 L808 254.4 L806.5 283.5 L805.9 327 L806.2 400 L806 470 L805.2 510 L804.2 560 L803 586 L799.2 603.6 L792 629.8 L783.3 653 L771.6 673.4 L762.9 686.5 L760 693.7 L758.2 700 L754.7 710.6 L751.2 722.4 L748.8 734.1 L748 747 L748.8 758.8 L751.2 768.2 L753.5 774.1 L753.8 777.6 L752.4 779.4 L745.3 781.2 L737 782.4 L730.6 783.3" fill="none" stroke="#22BB22" stroke-width="1.25" stroke-linejoin="round"/>
<circle cx="64.8" cy="21.8" r="4.0" fill="#000"/>
<text transform="translate(74.6 29.3) scale(1.0 1.07)" font-size="20.5" text-anchor="start" fill="#000" stroke="#000" stroke-width="0.3" stroke-linejoin="round" >NZHK</text>
<text transform="translate(136 26.8) scale(1.0 1.04)" font-size="12.85" text-anchor="start" fill="#000" stroke="#000" stroke-width="0.3" stroke-linejoin="round" >-42.717°,170.99° (12,31)</text>
<text transform="translate(294.3 29.3) scale(1.0 1.07)" font-size="20.5" text-anchor="start" fill="#000" stroke="#000" stroke-width="0.3" stroke-linejoin="round" >Valid 1600 NZDT</text>
<text transform="translate(457.4 27.8) scale(1.0 1.04)" font-size="14.5" text-anchor="start" fill="#000" stroke="#000" stroke-width="0.3" stroke-linejoin="round" >(0300Z)</text>
<text transform="translate(516.5 29.3) scale(1.0 1.07)" font-size="20.5" text-anchor="start" fill="#000" stroke="#000" stroke-width="0.3" stroke-linejoin="round" >THU 4 Sep 2025</text>
<text transform="translate(674.2 28) scale(1.0 1.02)" font-size="15.4" text-anchor="start" fill="#000" stroke="#000" stroke-width="0.3" stroke-linejoin="round" >[15hrFcst@1751z]</text>
<text transform="translate(289.3 48.9) scale(1.0 1.09)" font-size="12.33" text-anchor="start" fill="#A8124E" stroke="#A8124E" stroke-width="0.4" stroke-linejoin="round" >Plcl=1016 Tlcl[C]=7 Shox=4 Pwat[cm]=2 Cape[J]= 0</text>
</svg>
</body></html>
